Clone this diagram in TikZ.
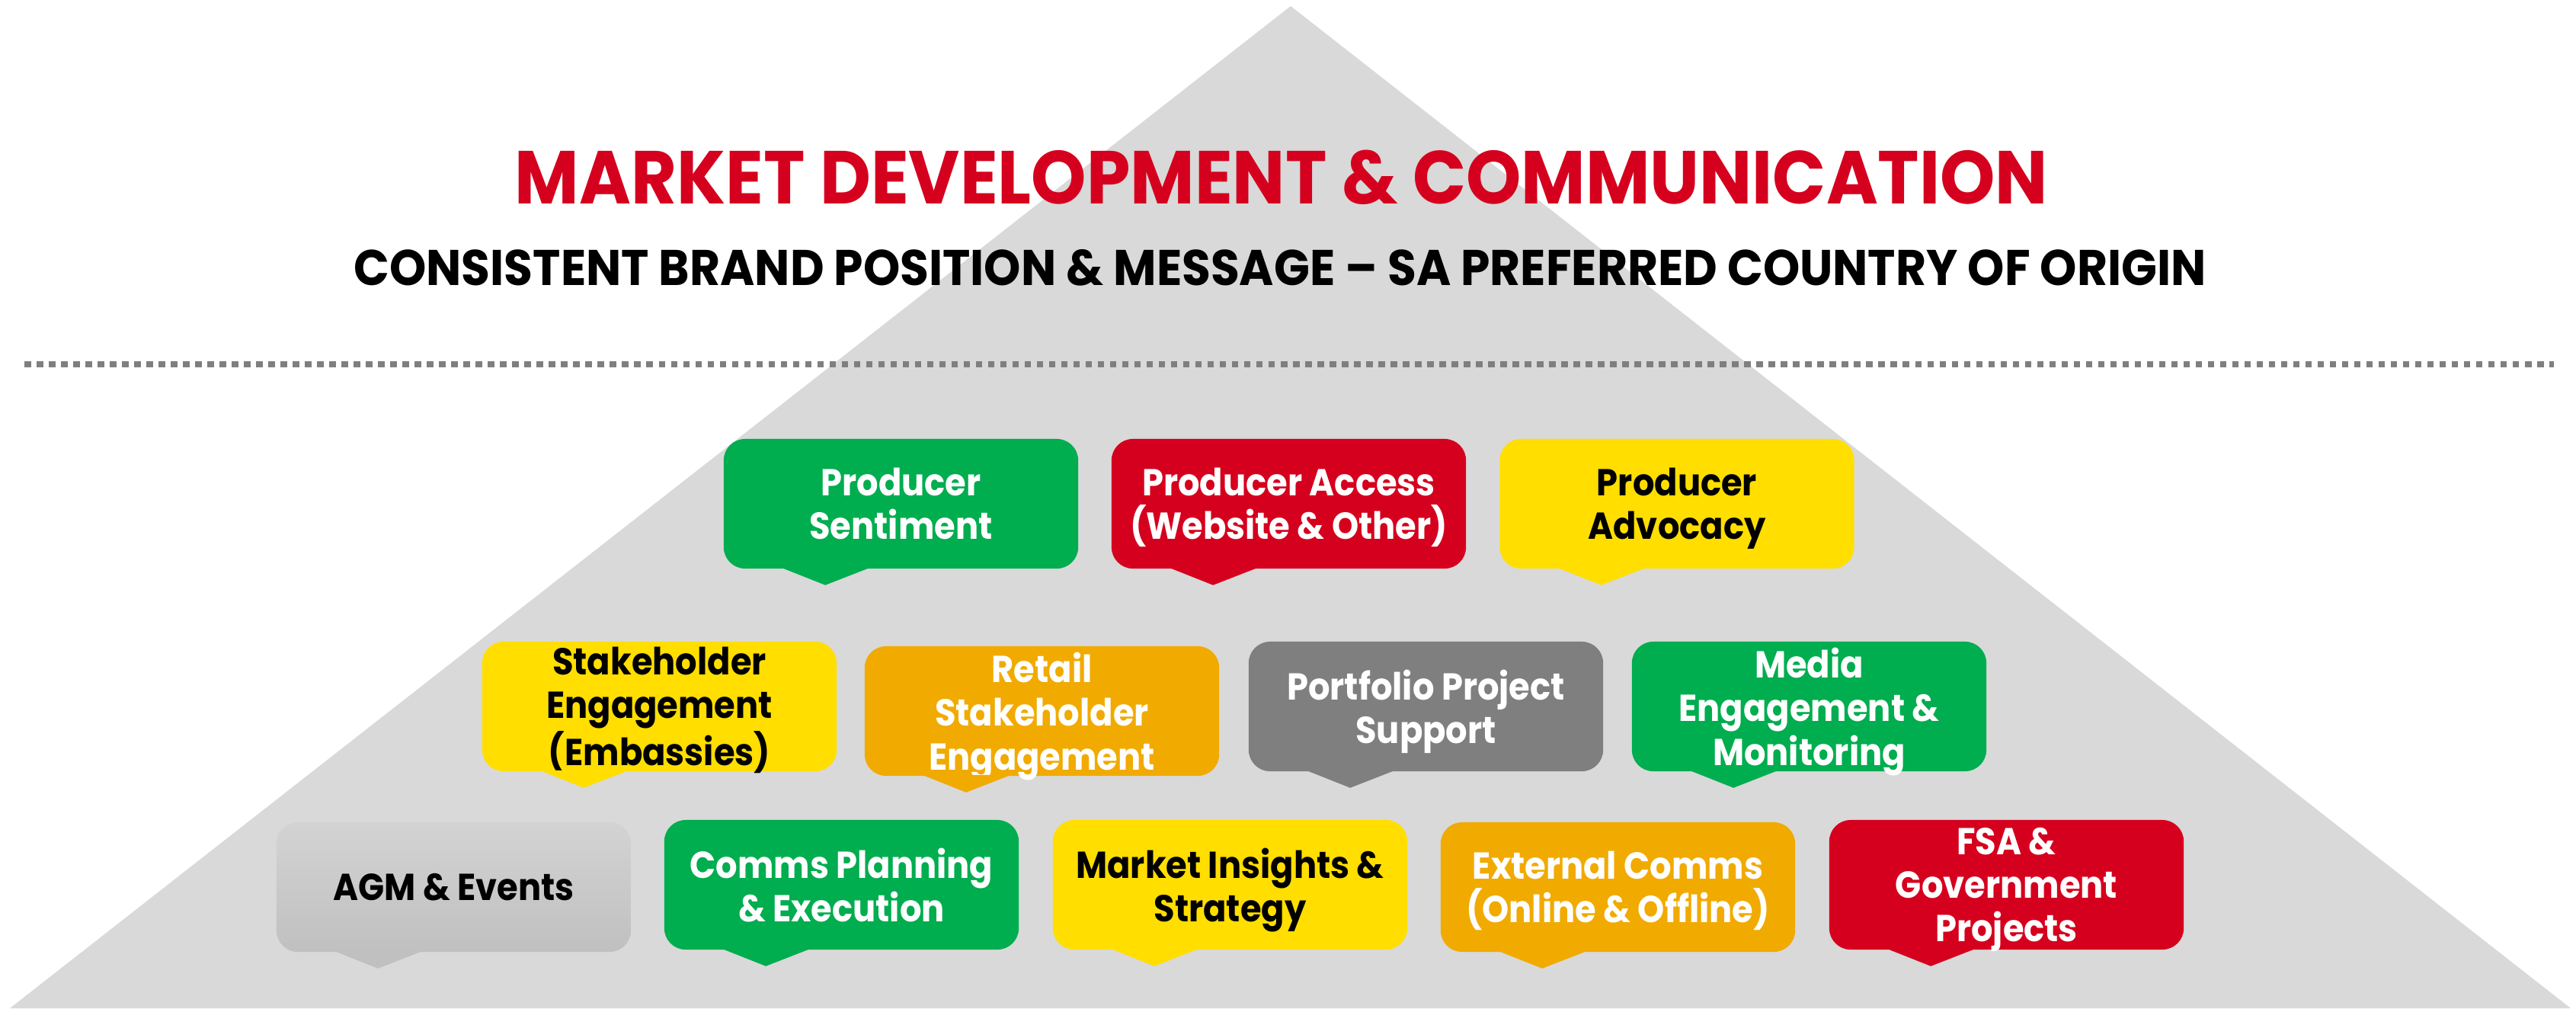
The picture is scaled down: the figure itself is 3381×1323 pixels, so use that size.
\documentclass[tikz,border=0pt]{standalone}
\usepackage{fontspec}
\setmainfont{Poppins}[FakeStretch=0.91]
\newfontfamily\titlefam{Poppins}[FakeStretch=0.935]
\usetikzlibrary{calc}
\definecolor{tri}{HTML}{D9D9D9}
\definecolor{cgreen}{HTML}{00AD4F}
\definecolor{cred}{HTML}{D5001E}
\definecolor{cyellow}{HTML}{FFDE00}
\definecolor{corange}{HTML}{F1AA00}
\definecolor{cgray}{HTML}{7F7F7F}
\definecolor{agmtop}{HTML}{D3D3D3}
\definecolor{agmbot}{HTML}{C0C0C0}
\definecolor{dotgray}{HTML}{7F7F7F}
\newcommand\ptr[2]{\fill[#2] ($(#1.south west)+(76,-2)$) -- ($(#1.south west)+(134,21)$) -- ($(#1.south west)+(193,-2)$) -- cycle;}
\tikzset{
  box/.style={rounded corners=0.28cm, minimum width=4.65cm, minimum height=1.70cm,
    inner sep=0pt, align=center, text depth=0pt,
    font=\fontsize{14}{16.3}\selectfont\bfseries},
  wbox/.style={box, fill=#1, text=white},
  bbox/.style={box, fill=#1, text=black},
  titlefont/.style={font=\titlefam\fontsize{28}{32}\selectfont\bfseries, text=cred, anchor=base, inner sep=0pt},
  subfont/.style={font=\titlefam\fontsize{18.7}{22}\selectfont\bfseries, text=black, anchor=base, inner sep=0pt},
  dots/.style={dotgray, line width=0.08cm, dash pattern=on 0.085cm off 0.075cm}
}
\begin{document}
\begin{tikzpicture}[x=0.01cm, y=-0.01cm]
\useasboundingbox (0,0) rectangle (3381,1323);
\fill[white] (0,0) rectangle (3381,1323);
% pyramid
\coordinate (apex) at (1694,8);
\coordinate (bl) at (13,1323);
\coordinate (br) at (3374,1323);
\fill[tri] (apex) -- (br) -- (bl) -- cycle;
% titles
\node[titlefont] (title) at (1682,267) {MARKET DEVELOPMENT \& COMMUNICATION};
\node[subfont] (sub) at (1680,374) {CONSISTENT BRAND POSITION \& MESSAGE – SA PREFERRED COUNTRY OF ORIGIN};
% dotted line
\coordinate (dl) at (32,478);
\coordinate (dr) at (3352,478);
\draw[dots] (dl) -- (dr);
% row 1
\node[wbox=cgreen] (ps) at (1182.5,661) {Producer\\Sentiment};
\node[wbox=cred] (pa) at (1691.5,661) {Producer Access\\(Website \& Other)};
\node[bbox=cyellow] (pv) at (2201,661) {Producer\\Advocacy};
\ptr{ps}{cgreen}\ptr{pa}{cred}\ptr{pv}{cyellow}
% row 2
\node[bbox=cyellow] (se) at (865.5,927) {Stakeholder\\Engagement\\(Embassies)};
\node[wbox=corange] (rs) at (1367.5,933) {Retail\\Stakeholder\\Engagement};
\node[wbox=cgray] (pp) at (1871.5,927) {Portfolio Project\\Support};
\node[wbox=cgreen] (me) at (2374.5,927) {Media\\Engagement \&\\Monitoring};
\ptr{se}{cyellow}\ptr{rs}{corange}\ptr{pp}{cgray}\ptr{me}{cgreen}
% row 3
\node[box, top color=agmtop, bottom color=agmbot, text=black] (agm) at (595.5,1164) {AGM \& Events};
\node[wbox=cgreen] (cp) at (1104.5,1161) {Comms Planning\\\& Execution};
\node[bbox=cyellow] (mi) at (1614.5,1161) {Market Insights \&\\Strategy};
\node[wbox=corange] (ec) at (2123.5,1164) {External Comms\\(Online \& Offline)};
\node[wbox=cred] (fsa) at (2633.5,1161) {FSA \&\\Government\\Projects};
\ptr{agm}{agmbot}\ptr{cp}{cgreen}\ptr{mi}{cyellow}\ptr{ec}{corange}\ptr{fsa}{cred}
\end{tikzpicture}
\end{document}
